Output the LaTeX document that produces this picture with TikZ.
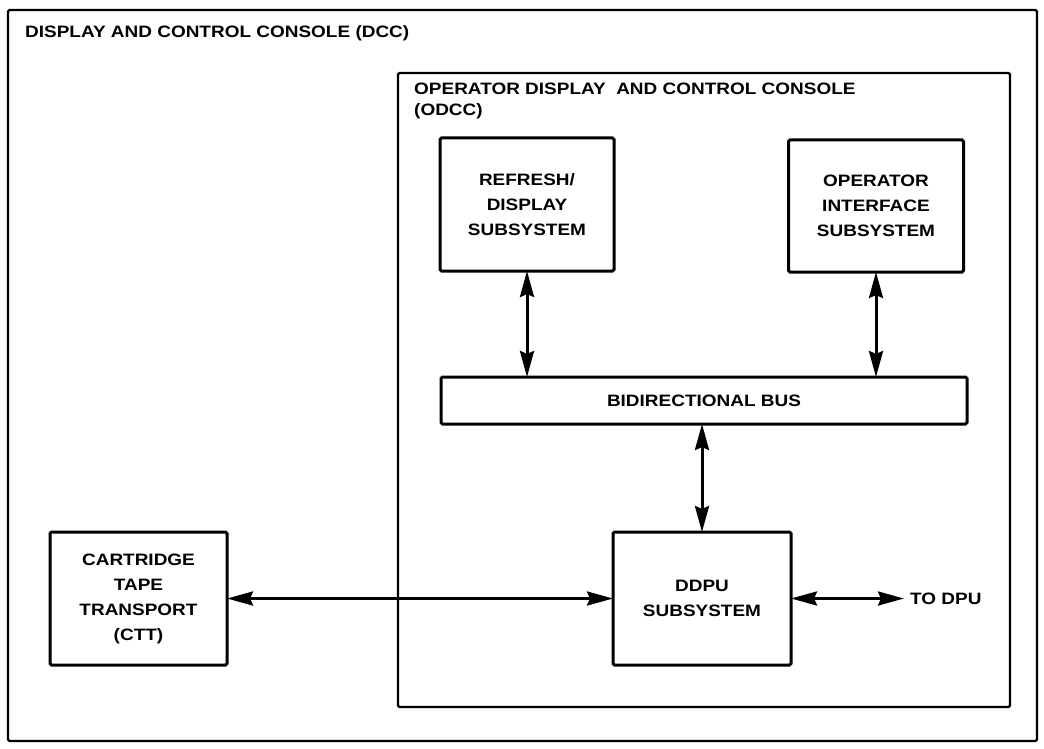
\documentclass[tikz,border=0pt]{standalone}
\usepackage{fontspec}
\setmainfont{Liberation Sans}[FakeStretch=1.15]
\usetikzlibrary{arrows.meta}

\tikzset{
  unitbox/.style={draw, line width=3pt, rounded corners=1.5pt, align=center,
                  font=\bfseries\fontsize{16.5}{25}\selectfont, inner sep=0pt, outer sep=0pt},
  frame/.style={draw, line width=2.2pt, rounded corners=1.5pt, inner sep=0pt, outer sep=0pt},
  heading/.style={font=\bfseries\fontsize{16.5}{21}\selectfont, align=left, inner sep=0pt},
  link/.style={line width=3pt, {Stealth[length=26pt,width=14pt,inset=3pt]}-{Stealth[length=26pt,width=14pt,inset=3pt]}}
}

\begin{document}
\begin{tikzpicture}[x=1pt, y=-1pt]
  \useasboundingbox (0,0) rectangle (1044,749);

  % outer console and operator console frames
  \node[frame, minimum width=1029pt, minimum height=731pt] (dcc) at (522.5,375.5) {};
  \node[heading, anchor=west] (dcctitle) at (25,33) {DISPLAY AND CONTROL CONSOLE (DCC)};

  \node[frame, minimum width=612pt, minimum height=634pt] (odcc) at (704,390) {};
  \node[heading, anchor=north west] (odcctitle) at (414,83)
    {OPERATOR DISPLAY\ \ AND CONTROL CONSOLE\\(ODCC)};

  % subsystem blocks
  \node[unitbox, minimum width=174pt, minimum height=133pt] (refresh) at (527,204.5)
    {REFRESH/\\DISPLAY\\SUBSYSTEM};
  \node[unitbox, minimum width=175pt, minimum height=132pt] (opif) at (876,206)
    {OPERATOR\\INTERFACE\\SUBSYSTEM};
  \node[unitbox, minimum width=526pt, minimum height=47pt] (bus) at (704,400.5)
    {BIDIRECTIONAL BUS};
  \node[unitbox, minimum width=178pt, minimum height=133pt] (ddpu) at (702,598.5)
    {DDPU\\SUBSYSTEM};
  \node[unitbox, minimum width=177pt, minimum height=133pt] (ctt) at (138.5,598.5)
    {CARTRIDGE\\TAPE\\TRANSPORT\\(CTT)};

  % external link end
  \coordinate (dpu) at (904,598.5);
  \node[heading, anchor=west] (dputxt) at (910,598.5) {TO DPU};

  % connectors
  \draw[link] (refresh.south) -- (refresh.south |- bus.north);
  \draw[link] (opif.south) -- (opif.south |- bus.north);
  \draw[link] (ddpu.north) -- (ddpu.north |- bus.south);
  \draw[link] (ctt.east) -- (ddpu.west);
  \draw[link] (ddpu.east) -- (dpu);
\end{tikzpicture}
\end{document}
